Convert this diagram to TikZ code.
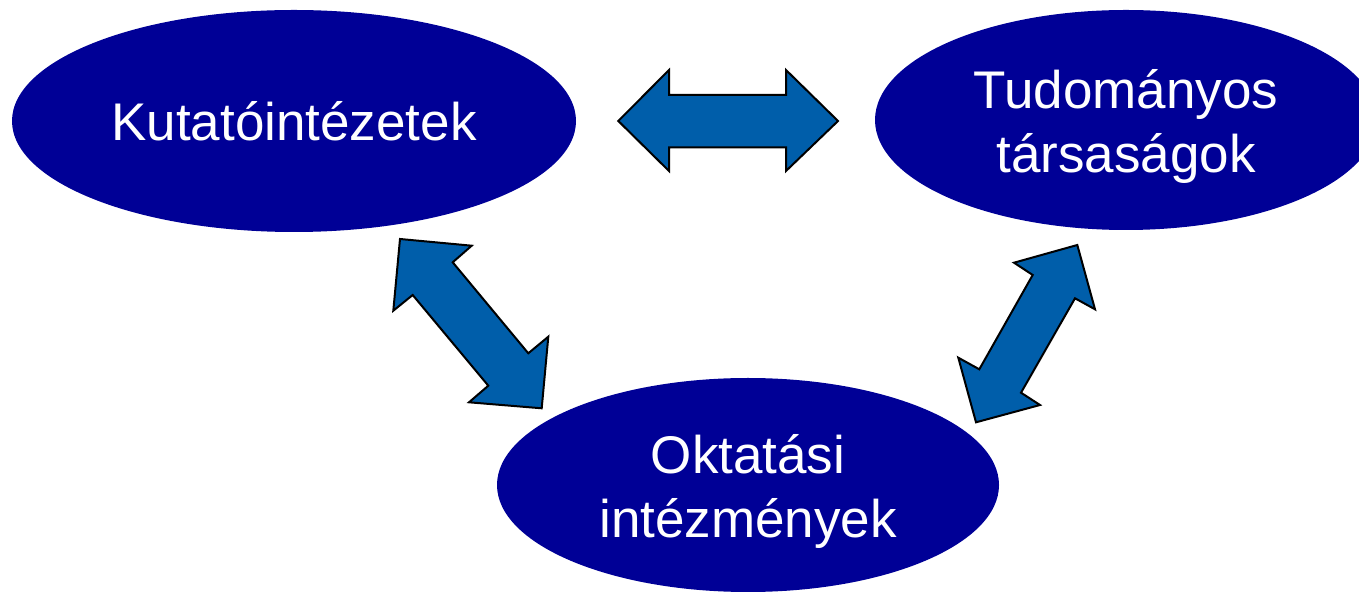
\documentclass[tikz,border=0pt]{standalone}
\usepackage{fontspec}
\setmainfont{Liberation Sans}
\usetikzlibrary{shapes.geometric}
\definecolor{ellnavy}{RGB}{0,0,150}
\definecolor{arrblue}{RGB}{0,94,170}
\newcommand{\twolines}[3]{\raisebox{#1}[\height][\depth]{\begin{tabular}{@{}c@{}}#2\\#3\end{tabular}}}
\tikzset{
  ell/.style={ellipse, fill=ellnavy, draw=none, inner sep=0pt, text=white, align=center,
    font=\fontsize{26.5pt}{32pt}\selectfont},
  blockarrow/.style={fill=arrblue, draw=black, line width=1pt, line join=miter}
}
\begin{document}
\begin{tikzpicture}[x=0.5pt,y=-0.5pt]
\useasboundingbox (0,0) rectangle (1359,592);
\clip (0,0) rectangle (1359,592);
\node[ell, minimum width=282pt, minimum height=111pt] (kut) at (294,121) {Kutatóintézetek};
\node[ell, minimum width=251pt, minimum height=110pt] (tud) at (1126,120) {\twolines{-3.75pt}{Tudományos}{társaságok}};
\node[ell, minimum width=251pt, minimum height=107pt] (okt) at (748,485) {\twolines{-3.85pt}{Oktatási}{intézmények}};
% horizontal double arrow
\draw[blockarrow] (618.3,121) -- (669,70) -- (669,95) -- (786,95) -- (786,70) -- (838,121)
  -- (786,171) -- (786,147.3) -- (669,147.3) -- (669,171) -- cycle;
% left diagonal double arrow
\draw[blockarrow] (400,239) -- (471.7,245.7) -- (452.7,262.3) -- (528.3,353.3) -- (548.3,336.7)
  -- (541.7,408.3) -- (469,402.3) -- (488.3,385.7) -- (412.7,295) -- (393.3,310.7) -- cycle;
% right diagonal double arrow
\draw[blockarrow] (1077.3,245) -- (1095,309.3) -- (1075,298.3) -- (1021,392.7) -- (1040,405)
  -- (976,422.3) -- (958.3,357.7) -- (979.3,369.3) -- (1032.7,275) -- (1014,262.7) -- cycle;
\end{tikzpicture}
\end{document}
